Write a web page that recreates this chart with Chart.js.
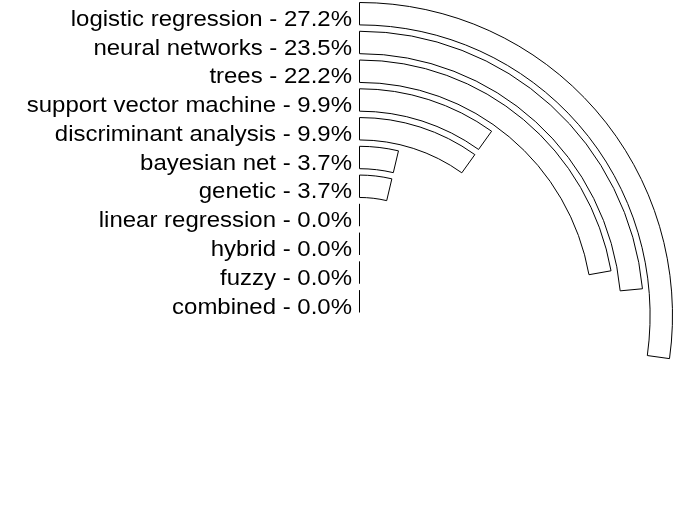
<!DOCTYPE html>
<html>
<head>
<meta charset="utf-8">
<script src="https://cdn.jsdelivr.net/npm/chart.js@4/dist/chart.umd.min.js"></script>
<style>
  html, body { margin: 0; padding: 0; background: #fff; overflow: hidden; }
  #wrap { position: absolute; left: 0; top: 0; width: 680px; height: 640px; }
</style>
</head>
<body>
<div id="wrap"><canvas id="c" width="680" height="640"></canvas></div>
<script>
// ---- data ----
const categories = [
  'logistic regression', 'neural networks', 'trees', 'support vector machine',
  'discriminant analysis', 'bayesian net', 'genetic', 'linear regression',
  'hybrid', 'fuzzy', 'combined'
];
const percentValues = [27.2, 23.5, 22.2, 9.9, 9.9, 3.7, 3.7, 0.0, 0.0, 0.0, 0.0];
const fullScale = 100; // a full circle = 100%

// ---- build rings (dataset 0 = outermost) ----
const RING_WEIGHT = 22.4;
const GAP_WEIGHT = 6.36;
const datasets = [];
categories.forEach((cat, i) => {
  if (i > 0) {
    datasets.push({
      label: '',
      isSpacer: true,
      data: [fullScale],
      backgroundColor: ['rgba(0,0,0,0)'],
      borderWidth: 0,
      weight: GAP_WEIGHT
    });
  }
  datasets.push({
    label: cat,
    catIndex: i,
    data: [percentValues[i], fullScale - percentValues[i]],
    backgroundColor: ['#ffffff', 'rgba(0,0,0,0)'],
    borderColor: ['#000000', 'rgba(0,0,0,0)'],
    borderWidth: [1, 0],
    borderJoinStyle: 'miter',
    borderAlign: 'center',
    weight: RING_WEIGHT
  });
});

// draws the start edge for 0% rings and the text labels, using the arc geometry from Chart.js
const ringLabels = {
  id: 'ringLabels',
  afterDatasetsDraw(chart) {
    const ctx = chart.ctx;
    chart.data.datasets.forEach((ds, di) => {
      if (ds.isSpacer) return;
      const arc = chart.getDatasetMeta(di).data[0];
      if (!arc) return;
      const i = ds.catIndex;
      if (arc.circumference === 0) {
        const a = arc.startAngle;
        ctx.save();
        ctx.strokeStyle = '#000';
        ctx.lineWidth = 1;
        ctx.beginPath();
        ctx.moveTo(arc.x + Math.cos(a) * arc.innerRadius, arc.y + Math.sin(a) * arc.innerRadius);
        ctx.lineTo(arc.x + Math.cos(a) * arc.outerRadius, arc.y + Math.sin(a) * arc.outerRadius);
        ctx.stroke();
        ctx.restore();
      }
      const text = categories[i] + ' - ' + percentValues[i].toFixed(1) + '%';
      const xr = arc.x - 7.5;
      const yb = arc.y - arc.innerRadius + 1;
      ctx.save();
      ctx.fillStyle = '#000';
      ctx.font = '22px "Liberation Sans", Arial, sans-serif';
      ctx.textAlign = 'right';
      ctx.textBaseline = 'alphabetic';
      ctx.translate(xr, yb);
      ctx.scale(1.09, 1);
      ctx.fillText(text, 0, 0);
      ctx.restore();
    });
  }
};

new Chart(document.getElementById('c'), {
  type: 'doughnut',
  data: { labels: ['value', 'rest'], datasets },
  options: {
    responsive: false,
    animation: false,
    events: [],
    cutout: 3,
    rotation: 0,
    circumference: 360,
    layout: { padding: { left: 46, right: 7, top: 2, bottom: 11 } },
    plugins: { legend: { display: false }, tooltip: { enabled: false } }
  },
  plugins: [ringLabels]
});
</script>
</body>
</html>
